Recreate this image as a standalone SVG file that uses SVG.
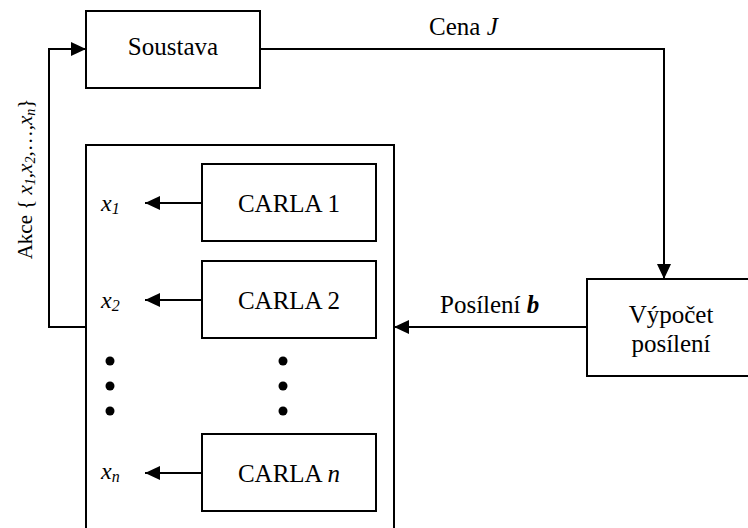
<svg xmlns="http://www.w3.org/2000/svg" width="748" height="528" viewBox="0 0 748 528">
  <style>
    .box { fill: #fff; stroke: #000; stroke-width: 2; }
    .wire { fill: none; stroke: #000; stroke-width: 2; }
    text { font-family: "Liberation Serif", "Times New Roman", serif; fill: #000; }
    .lbl { font-size: 25px; }
    .var { font-size: 24px; font-style: italic; }
    .sub { font-size: 16px; font-style: italic; }
    .dot { fill: #000; }
  </style>
  <defs>
    <marker id="arrow" markerUnits="userSpaceOnUse" markerWidth="16" markerHeight="15" refX="15" refY="7" orient="auto">
      <path d="M0,0 L15,7 L0,14 z" fill="#000"/>
    </marker>
  </defs>
  <rect width="748" height="528" fill="#fff"/>

  <!-- plant -->
  <g id="soustava">
    <rect class="box" x="86" y="11" width="174" height="77"/>
    <text class="lbl" x="173" y="55" text-anchor="middle">Soustava</text>
  </g>

  <!-- automata container -->
  <g id="automata">
    <rect class="box" x="86" y="145" width="308" height="400"/>
  </g>

  <g id="carla1">
    <rect class="box" x="202" y="164" width="174" height="77"/>
    <text class="lbl" x="289" y="212" text-anchor="middle">CARLA 1</text>
  </g>
  <g id="carla2">
    <rect class="box" x="202" y="261" width="174" height="77"/>
    <text class="lbl" x="289" y="309" text-anchor="middle">CARLA 2</text>
  </g>
  <g id="carlan">
    <rect class="box" x="202" y="434" width="174" height="77"/>
    <text class="lbl" x="289" y="482" text-anchor="middle">CARLA <tspan font-style="italic">n</tspan></text>
  </g>

  <!-- reinforcement computation -->
  <g id="vypocet">
    <rect class="box" x="587" y="279" width="180" height="97"/>
    <text class="lbl" x="671" y="323" text-anchor="middle">Výpočet</text>
    <text class="lbl" x="671" y="352" text-anchor="middle">posílení</text>
  </g>

  <!-- action outputs -->
  <g id="outputs">
    <text class="var" x="101" y="211">x<tspan class="sub" dy="3">1</tspan></text>
    <text class="var" x="101" y="308">x<tspan class="sub" dy="3">2</tspan></text>
    <text class="var" x="101" y="479">x<tspan class="sub" dy="3">n</tspan></text>
  </g>

  <!-- ellipsis dots -->
  <g id="dots">
    <circle class="dot" cx="110" cy="361" r="4.5"/>
    <circle class="dot" cx="110" cy="386" r="4.5"/>
    <circle class="dot" cx="110" cy="411" r="4.5"/>
    <circle class="dot" cx="283" cy="361" r="4.5"/>
    <circle class="dot" cx="283" cy="386" r="4.5"/>
    <circle class="dot" cx="283" cy="411" r="4.5"/>
  </g>

  <!-- connectors -->
  <g id="connectors">
    <path class="wire" d="M86,327 H49 V49 H86" marker-end="url(#arrow)"/>
    <path class="wire" d="M260,49 H664 V279" marker-end="url(#arrow)"/>
    <path class="wire" d="M587,327 H394" marker-end="url(#arrow)"/>
    <path class="wire" d="M202,203 H145" marker-end="url(#arrow)"/>
    <path class="wire" d="M202,300 H145" marker-end="url(#arrow)"/>
    <path class="wire" d="M202,473 H145" marker-end="url(#arrow)"/>
  </g>

  <!-- connector labels -->
  <g id="labels">
    <text class="lbl" x="429" y="35">Cena <tspan font-style="italic">J</tspan></text>
    <text class="lbl" x="440" y="313">Posílení <tspan font-style="italic" font-weight="bold">b</tspan></text>
    <text font-size="21" transform="translate(32,179) rotate(-90)" text-anchor="middle">Akce { <tspan font-style="italic">x</tspan><tspan font-style="italic" font-size="14" dy="3">1</tspan><tspan dy="-3">,</tspan><tspan font-style="italic">x</tspan><tspan font-style="italic" font-size="14" dy="3">2</tspan><tspan dy="-3">,…,</tspan><tspan font-style="italic">x</tspan><tspan font-style="italic" font-size="14" dy="3">n</tspan><tspan dy="-3">}</tspan></text>
  </g>
</svg>
